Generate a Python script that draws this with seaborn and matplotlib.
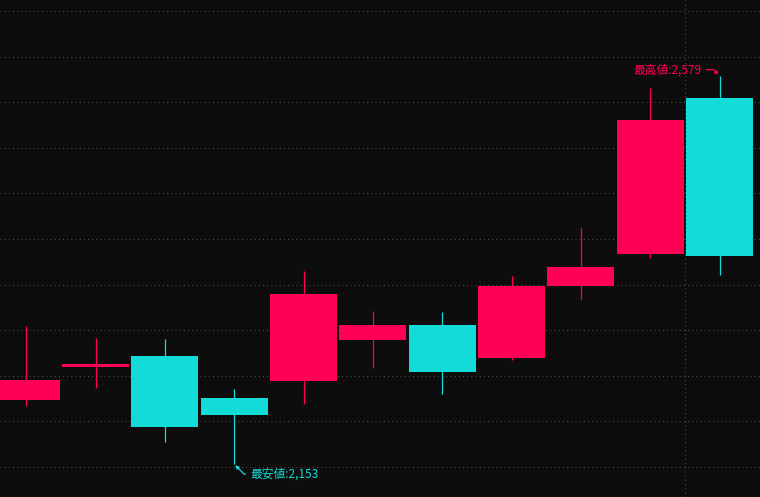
import numpy as np
import pandas as pd
import matplotlib
matplotlib.use("Agg")
import matplotlib.pyplot as plt
import seaborn as sns

# === Data ===
opens = [2223.5, 2259.6, 2271.7, 2225.7, 2244.3, 2289.3, 2305.7, 2269.5, 2348.5, 2383.6, 2554.6]
closes = [2245.4, 2262.9, 2193.9, 2207.0, 2339.7, 2305.7, 2254.2, 2348.5, 2369.3, 2530.5, 2381.4]
highs = [2304.6, 2291.4, 2290.4, 2235.5, 2364.9, 2321.1, 2320.0, 2359.4, 2412.1, 2565.6, 2579.0]
lows = [2216.9, 2236.6, 2177.4, 2153.0, 2219.1, 2258.6, 2230.0, 2267.3, 2334.2, 2379.2, 2360.5]
grid_levels = [2150, 2200, 2250, 2300, 2350, 2400, 2450, 2500, 2550, 2600, 2650]
high_label = "最高値:2,579"
low_label = "最安値:2,153"

UP = "#ff0055"
DOWN = "#12dcd8"
BG = "#0d0d0d"
GRID = "#505050"

df = pd.DataFrame({"open": opens, "close": closes, "high": highs, "low": lows})
df["idx"] = np.arange(len(df))
df["color"] = np.where(df["close"] >= df["open"], UP, DOWN)
df["bottom"] = df[["open", "close"]].min(axis=1)
df["height"] = (df["close"] - df["open"]).abs()

# === Style ===
sns.set_style("dark", {"axes.facecolor": BG, "figure.facecolor": BG})
plt.rcParams["font.family"] = ["Noto Sans CJK JP", "DejaVu Sans"]

fig = plt.figure(figsize=(7.6, 4.97), dpi=100)
ax = fig.add_axes([0, 0, 1, 1])
ax.set_facecolor(BG)

dots = (0, (1, 3))
for lvl in grid_levels:
    ax.axhline(lvl, color=GRID, lw=0.75, ls=dots, zorder=0)
ax.axvline(9.5, color=GRID, lw=0.75, ls=dots, zorder=0)

# wicks then bodies
ax.vlines(df["idx"], df["low"], df["high"], colors=df["color"], lw=0.9, zorder=2)
ax.bar(df["idx"], df["height"], bottom=df["bottom"], width=0.966,
       color=df["color"], linewidth=0, zorder=3)

# high / low markers
hi = df["high"].idxmax()
lo = df["low"].idxmin()
ax.annotate(high_label, xy=(hi, df.loc[hi, "high"]), xytext=(-18, 6),
            textcoords="offset pixels", ha="right", va="center",
            color=UP, fontsize=8.5,
            arrowprops=dict(arrowstyle="-|>", color=UP, lw=0.9, mutation_scale=5,
                            shrinkA=1, shrinkB=1,
                            connectionstyle="angle,angleA=0,angleB=135,rad=0"))
ax.annotate(low_label, xy=(lo, df.loc[lo, "low"]), xytext=(16, -10),
            textcoords="offset pixels", ha="left", va="center",
            color=DOWN, fontsize=8.5,
            arrowprops=dict(arrowstyle="-|>", color=DOWN, lw=0.9, mutation_scale=5,
                            shrinkA=1, shrinkB=1,
                            connectionstyle="angle,angleA=180,angleB=-45,rad=0"))

ax.set_xlim(-0.378, 10.584)
ax.set_ylim(2117, 2662)
ax.set_xticks([])
ax.set_yticks([])
for s in ax.spines.values():
    s.set_visible(False)

fig.savefig("out.png", dpi=100, facecolor=BG)
